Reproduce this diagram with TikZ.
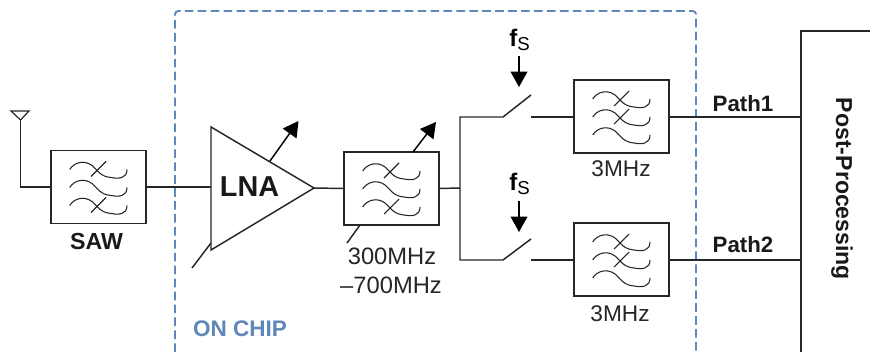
\documentclass[tikz,border=0pt]{standalone}
\usepackage{fontspec}
\setmainfont{Liberation Sans}
\usetikzlibrary{arrows.meta}
\definecolor{chipblue}{HTML}{5F87BA}
\tikzset{
  wire/.style={line width=1.1pt,draw=black!85},
  thin wire/.style={line width=0.9pt,draw=black!85},
  filterbox/.style={draw=black!85,line width=1.1pt,minimum width=71.25pt,minimum height=54.75pt,inner sep=0pt},
  filtercurve/.style={line width=0.8pt,draw=black!85},
  bigarrow/.style={line width=1.1pt,-{Triangle[length=11.5pt,width=12.5pt]}},
  plain label/.style={font=\fontsize{17}{20}\selectfont,inner sep=0pt,text=black!85},
  wide label/.style={font=\fontsize{17.8}{20}\selectfont,inner sep=0pt,text=black!85},
  bold label/.style={font=\fontsize{16.7}{20}\selectfont\bfseries,inner sep=0pt,text=black!90},
}
\newcommand{\fsmark}{{\fontsize{18}{20}\selectfont\bfseries f}\raisebox{-3.5pt}{\fontsize{14}{16}\selectfont S}}
% #1 name, #2 cx, #3 cy, #4 curve offsets that carry a tick
\newcommand{\filterblock}[4]{%
  \node[filterbox] (#1) at (#2,#3) {};
  \begin{scope}[shift={(#2-47.5,#3-36.5)}]
    \foreach \dy in {0,18,36}{
      \draw[filtercurve] (18.7,19+\dy) .. controls (23,12+\dy) and (33,9+\dy) .. (41,15+\dy)
        .. controls (47,20+\dy) and (49,26+\dy) .. (60,27+\dy)
        .. controls (68,28.5+\dy) and (76,28+\dy) .. (76,19+\dy);
    }
    \foreach \dy in {#4}{
      \draw[filtercurve] (40,26+\dy) -- (55,11+\dy);
    }
  \end{scope}
}
\begin{document}
\begin{tikzpicture}[x=0.75pt,y=-0.75pt]
\useasboundingbox (0,0) rectangle (870,352);
% on-chip boundary
\coordinate (chipA) at (175,352);
\coordinate (chipB) at (175,11);
\coordinate (chipC) at (696,11);
\coordinate (chipD) at (696,352);
\draw[chipblue,line width=1.4pt,dash pattern=on 6.5pt off 3.2pt,rounded corners=2.5pt] (chipA) -- (chipB) -- (chipC) -- (chipD);
\node[font=\fontsize{16.9}{20}\selectfont\bfseries,text=chipblue,inner sep=0pt] (chiplabel) at (240,329) {ON CHIP};
% antenna
\coordinate (antL) at (11,111);
\coordinate (antR) at (29,111);
\coordinate (antB) at (20.5,120);
\draw[thin wire,line join=miter] (antL) -- (antR) -- (antB) -- cycle;
% filters
\filterblock{saw}{98.5}{187}{0,36}
\filterblock{bpf}{391.5}{188.5}{0,36}
\filterblock{lpfa}{621.5}{116.5}{0,18}
\filterblock{lpfb}{621.5}{259.5}{0,18}
\draw[wire] (antB) |- (saw.west);
\node[font=\fontsize{17.4}{20}\selectfont\bfseries,inner sep=0pt,text=black!90] (sawlabel) at (96.5,242) {SAW};
% LNA
\coordinate (lnaT) at (211,127);
\coordinate (lnaB) at (211,250);
\coordinate (lnaO) at (314,188);
\coordinate (lnaI) at (211,187);
\draw[wire,line join=miter] (lnaT) -- (lnaO) -- (lnaB) -- cycle;
\node[font=\fontsize{21.6}{24}\selectfont\bfseries,inner sep=0pt,text=black!90] (lna) at (249.5,187) {LNA};
\draw[wire] (saw.east |- lnaI) -- (lnaI);
\coordinate (lnaC) at (192,268);
\coordinate (lnaCe) at (211,243);
\draw[wire] (lnaC) -- (lnaCe);
\coordinate (lnaAs) at (270,161);
\coordinate (lnaAe) at (298.5,121);
\draw[bigarrow] (lnaAs) -- (lnaAe);
\draw[wire] (lnaO) -- (bpf.west);
% tunable filter
\coordinate (bpfAs) at (413,152);
\coordinate (bpfAe) at (436,122);
\draw[bigarrow] (bpfAs) -- (bpfAe);
\coordinate (bpfTs) at (347,243);
\coordinate (bpfTe) at (360,225);
\draw[wire] (bpfTs) -- (bpfTe);
\node[wide label] (bpfl1) at (392,256) {300MHz};
\node[wide label] (bpfl2) at (391,285) {–700MHz};
% branches
\coordinate (branch) at (460,188);
\coordinate (swaIn) at (503,117);
\coordinate (swaArm) at (531,95);
\coordinate (swaOut) at (531,117);
\coordinate (swbIn) at (503,260);
\coordinate (swbArm) at (531,239);
\coordinate (swbOut) at (531,260);
\draw[wire] (bpf.east) -- (branch);
\draw[wire] (swaArm) -- (swaIn) -- (460,117) -- (460,260) -- (swbIn) -- (swbArm);
\draw[wire] (swaOut) -- (lpfa.west |- swaOut);
\draw[wire] (swbOut) -- (lpfb.west |- swbOut);
\node[plain label] (lpfal) at (621,169) {3MHz};
\node[plain label] (lpfbl) at (620,314) {3MHz};
% clocks
\node[inner sep=0pt] (fsa) at (519.5,40) {\fsmark};
\node[inner sep=0pt] (fsb) at (519.5,184) {\fsmark};
\coordinate (fsaS) at (519,56);
\coordinate (fsaE) at (519,87);
\coordinate (fsbS) at (519,201);
\coordinate (fsbE) at (519,232);
\draw[bigarrow] (fsaS) -- (fsaE);
\draw[bigarrow] (fsbS) -- (fsbE);
% post-processing
\coordinate (ppTop) at (870,31);
\coordinate (ppCorner) at (801,31);
\coordinate (ppBot) at (801,352);
\draw[wire,line join=miter] (ppTop) -- (ppCorner) -- (ppBot);
\coordinate (pp1) at (801,117);
\coordinate (pp2) at (801,260);
\draw[wire] (lpfa.east |- pp1) -- (pp1);
\draw[wire] (lpfb.east |- pp2) -- (pp2);
\node[bold label] (p1) at (743,104) {Path1};
\node[bold label] (p2) at (743,245) {Path2};
\node[font=\fontsize{17.3}{20}\selectfont\bfseries,inner sep=0pt,rotate=-90,text=black!90] (pp) at (842,189) {Post-Processing};
\end{tikzpicture}
\end{document}
